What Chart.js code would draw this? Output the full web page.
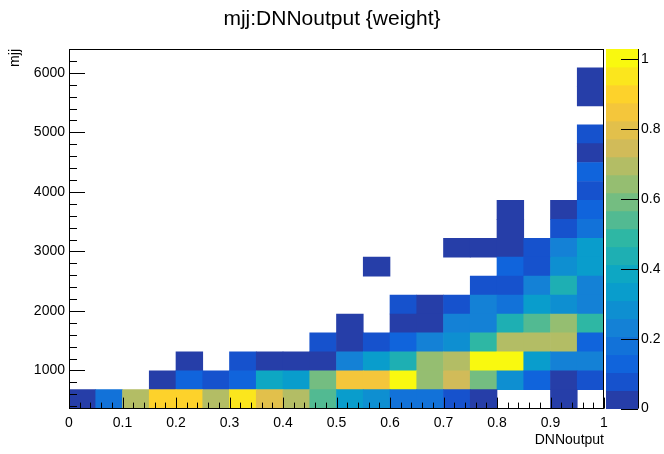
<!DOCTYPE html>
<html>
<head>
<meta charset="utf-8">
<script src="https://cdn.jsdelivr.net/npm/chart.js@4.4.0/dist/chart.umd.min.js"></script>
<style>
  html, body { margin: 0; padding: 0; background: #fff; }
</style>
</head>
<body>
<canvas id="h2" width="664" height="454"></canvas>
<script>
// bin edges of the 2D histogram
const dnnEdges = [0, 0.05, 0.1, 0.15, 0.2, 0.25, 0.3, 0.35, 0.4, 0.45, 0.5,
                  0.55, 0.6, 0.65, 0.7, 0.75, 0.8, 0.85, 0.9, 0.95, 1];
const mjjEdges = [360, 678, 996, 1314, 1632, 1949, 2267, 2585, 2903, 3221, 3539,
                  3857, 4175, 4493, 4811, 5128, 5446, 5764, 6082, 6400];

const xTicks = [0, 0.1, 0.2, 0.3, 0.4, 0.5, 0.6, 0.7, 0.8, 0.9, 1];
const yTicks = [1000, 2000, 3000, 4000, 5000, 6000];
const zTicks = [0, 0.2, 0.4, 0.6, 0.8, 1];
const zMax = 1.03;

// bin contents (weight), one row per mjj bin, bottom row first
const _ = null;
const weights = [
  [0.03, 0.18, 0.70, 0.90, 0.90, 0.70, 0.95, 0.80, 0.70, 0.54, 0.33, 0.28, 0.18, 0.18, 0.08, 0.03, _, _, 0.03, _],
  [_, _, _, 0.03, 0.13, 0.08, 0.13, 0.39, 0.33, 0.59, 0.85, 0.85, 1.03, 0.64, 0.75, 0.59, 0.28, 0.13, 0.03, 0.08],
  [_, _, _, _, 0.03, _, 0.08, 0.03, 0.03, 0.03, 0.23, 0.33, 0.44, 0.64, 0.70, 1.00, 1.01, 0.33, 0.23, 0.23],
  [_, _, _, _, _, _, _, _, _, 0.08, 0.03, 0.08, 0.13, 0.23, 0.28, 0.49, 0.70, 0.70, 0.70, 0.13],
  [_, _, _, _, _, _, _, _, _, _, 0.03, _, 0.03, 0.03, 0.23, 0.23, 0.44, 0.54, 0.64, 0.49],
  [_, _, _, _, _, _, _, _, _, _, _, _, 0.08, 0.03, 0.08, 0.23, 0.18, 0.33, 0.28, 0.23],
  [_, _, _, _, _, _, _, _, _, _, _, _, _, _, _, 0.08, 0.08, 0.23, 0.44, 0.23],
  [_, _, _, _, _, _, _, _, _, _, _, 0.03, _, _, _, _, 0.13, 0.08, 0.28, 0.33],
  [_, _, _, _, _, _, _, _, _, _, _, _, _, _, 0.03, 0.03, 0.03, 0.08, 0.23, 0.33],
  [_, _, _, _, _, _, _, _, _, _, _, _, _, _, _, _, 0.03, _, 0.08, 0.18],
  [_, _, _, _, _, _, _, _, _, _, _, _, _, _, _, _, 0.03, _, 0.03, 0.13],
  [_, _, _, _, _, _, _, _, _, _, _, _, _, _, _, _, _, _, _, 0.08],
  [_, _, _, _, _, _, _, _, _, _, _, _, _, _, _, _, _, _, _, 0.13],
  [_, _, _, _, _, _, _, _, _, _, _, _, _, _, _, _, _, _, _, 0.03],
  [_, _, _, _, _, _, _, _, _, _, _, _, _, _, _, _, _, _, _, 0.08],
  [_, _, _, _, _, _, _, _, _, _, _, _, _, _, _, _, _, _, _, _],
  [_, _, _, _, _, _, _, _, _, _, _, _, _, _, _, _, _, _, _, 0.03],
  [_, _, _, _, _, _, _, _, _, _, _, _, _, _, _, _, _, _, _, 0.03],
  [_, _, _, _, _, _, _, _, _, _, _, _, _, _, _, _, _, _, _, _]
];

// ROOT "bird" palette, 255 colours, 20 contour levels
const stops = [0, 0.125, 0.25, 0.375, 0.5, 0.625, 0.75, 0.875, 1];
const red   = [0.2082, 0.0592, 0.0780, 0.0232, 0.1802, 0.5301, 0.8186, 0.9956, 0.9764];
const green = [0.1664, 0.3599, 0.5041, 0.6419, 0.7178, 0.7492, 0.7328, 0.7862, 0.9832];
const blue  = [0.5293, 0.8684, 0.8385, 0.7914, 0.6425, 0.4662, 0.3499, 0.1968, 0.0539];
const nLevels = 20;

function paletteColor(j) {
  const b = stops.map(s => Math.floor(255 * s));
  let g = 1;
  while (g < b.length - 1 && j >= b[g]) g++;
  const f = (j - b[g - 1]) / (b[g] - b[g - 1]);
  const mix = a => Math.round(255 * (a[g - 1] + f * (a[g] - a[g - 1])));
  return `rgb(${mix(red)},${mix(green)},${mix(blue)})`;
}
function levelColor(level) {
  return paletteColor(Math.floor((level + 0.99) * 255 / nLevels));
}
function weightColor(w) {
  const level = Math.min(nLevels - 1, Math.floor(w / zMax * nLevels));
  return levelColor(level);
}

// one floating-bar dataset per mjj row
const datasets = weights.map((row, r) => {
  const pts = [], cols = [];
  row.forEach((w, c) => {
    if (w === null) return;
    pts.push({ x: (dnnEdges[c] + dnnEdges[c + 1]) / 2, y: [mjjEdges[r], mjjEdges[r + 1]] });
    cols.push(weightColor(w));
  });
  return {
    label: 'row' + r,
    data: pts,
    backgroundColor: cols,
    borderWidth: 0,
    grouped: false,
    barPercentage: 1,
    categoryPercentage: 1
  };
});

// ROOT style frame, inward ticks and the colour scale
const rootFrame = {
  id: 'rootFrame',
  afterDatasetsDraw(chart) {
    const { ctx, chartArea: a, scales: { x, y, z } } = chart;
    ctx.save();
    ctx.strokeStyle = '#000';
    ctx.lineWidth = 1;

    // colour bar
    const left = Math.round(a.right) + 2, right = Math.round(a.right) + 34;
    for (let i = 0; i < nLevels; i++) {
      const y0 = z.getPixelForValue(i * zMax / nLevels);
      const y1 = z.getPixelForValue((i + 1) * zMax / nLevels);
      ctx.fillStyle = levelColor(i);
      ctx.fillRect(left, y1, right - left, y0 - y1 + 0.4);
    }

    ctx.beginPath();
    // y axis ticks: major every 1000, minor every 200
    for (let v = 400; v < 6400; v += 200) {
      const py = Math.round(y.getPixelForValue(v)) + 0.5;
      ctx.moveTo(a.left, py);
      ctx.lineTo(a.left + (v % 1000 === 0 ? 16 : 8), py);
    }
    // x axis ticks: major every 0.1, minor every 0.02
    for (let k = 0; k <= 50; k++) {
      const px = Math.round(x.getPixelForValue(k * 0.02)) + 0.5;
      ctx.moveTo(px, a.bottom);
      ctx.lineTo(px, a.bottom - (k % 5 === 0 ? 11 : 6));
    }
    // colour bar axis
    ctx.moveTo(right + 0.5, a.top);
    ctx.lineTo(right + 0.5, a.bottom);
    zTicks.forEach(v => {
      const py = Math.round(z.getPixelForValue(v)) + 0.5;
      ctx.moveTo(right, py);
      ctx.lineTo(right - 17, py);
    });
    ctx.stroke();

    // frame box
    ctx.strokeRect(Math.round(a.left) + 0.5, Math.round(a.top) + 0.5,
                   Math.round(a.right - a.left) - 1, Math.round(a.bottom - a.top) - 1);
    ctx.restore();
  }
};

Chart.defaults.font.family = '"Liberation Sans", Arial, sans-serif';
Chart.defaults.color = '#000';

new Chart(document.getElementById('h2'), {
  type: 'bar',
  data: { datasets },
  plugins: [rootFrame],
  options: {
    responsive: false,
    animation: false,
    layout: { padding: 0 },
    plugins: {
      legend: { display: false },
      tooltip: { enabled: false },
      title: {
        display: true,
        text: 'mjj:DNNoutput {weight}',
        color: '#000',
        font: { size: 21, weight: 'normal', lineHeight: 24 / 21 },
        padding: { top: 7, bottom: 18 }
      }
    },
    scales: {
      x: {
        type: 'linear',
        min: 0,
        max: 1,
        offset: false,
        grid: { display: false, drawTicks: false },
        border: { display: false },
        afterBuildTicks: s => { s.ticks = xTicks.map(v => ({ value: v })); },
        ticks: { font: { size: 14 }, padding: 6, maxRotation: 0, callback: v => String(v) },
        title: {
          display: true, text: 'DNNoutput', align: 'end',
          font: { size: 14 }, padding: { top: 0, bottom: 3 }
        },
        afterFit: s => { s.height = 43; }
      },
      y: {
        type: 'linear',
        min: mjjEdges[0],
        max: mjjEdges[mjjEdges.length - 1],
        grid: { display: false, drawTicks: false },
        border: { display: false },
        afterBuildTicks: s => { s.ticks = yTicks.map(v => ({ value: v })); },
        ticks: { font: { size: 14 }, padding: 4, callback: v => String(v) },
        title: {
          display: true, text: 'mjj', align: 'end',
          font: { size: 14 }, padding: { top: 7, bottom: 0 }
        },
        afterFit: s => { s.width = 69; }
      },
      z: {
        type: 'linear',
        position: 'right',
        min: 0,
        max: zMax,
        grid: { display: false, drawTicks: false },
        border: { display: false },
        afterBuildTicks: s => { s.ticks = zTicks.map(v => ({ value: v })); },
        ticks: { font: { size: 14 }, padding: 37, callback: v => String(v) },
        afterFit: s => { s.width = 60; }
      }
    }
  }
});
</script>
</body>
</html>
